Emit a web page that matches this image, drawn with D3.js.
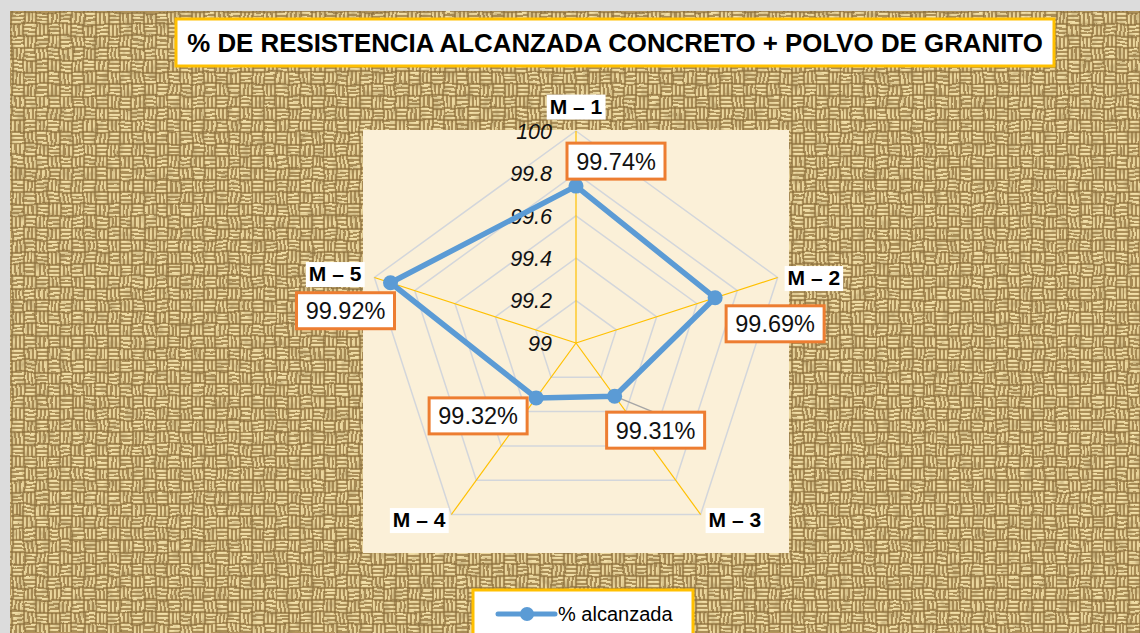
<!DOCTYPE html>
<html>
<head>
<meta charset="utf-8">
<script src="https://cdn.jsdelivr.net/npm/d3@7"></script>
<style>
  html, body { margin: 0; padding: 0; background: #ffffff; }
  svg { display: block; }
</style>
</head>
<body>
<svg id="chart" width="1140" height="633"></svg>
<script>
// ---- data ----
const titleText = "% DE RESISTENCIA ALCANZADA CONCRETO + POLVO DE GRANITO";
const categories = ["M – 1", "M – 2", "M – 3", "M – 4", "M – 5"];
const values = [99.74, 99.69, 99.31, 99.32, 99.92];
const tickValues = [99, 99.2, 99.4, 99.6, 99.8, 100];
const tickLabels = ["99", "99.2", "99.4", "99.6", "99.8", "100"];
const seriesName = "% alcanzada";

// ---- layout ----
const W = 1140, H = 633;
const cx = 576, cy = 343, R = 212;
const plotBox = { x: 363, y: 130, w: 426, h: 423 };
// data-label box offsets (centre of box relative to its marker)
const labelOffsets = [[40, -25], [60, 26], [41, 34], [-58, 18], [-45, 28]];
// category label placement relative to the outer vertex
const catPlace = [
  { dx: 0, dy: -25, anchor: "middle" },
  { dx: 10, dy: 0, anchor: "start" },
  { dx: 8, dy: 5, anchor: "start" },
  { dx: -6, dy: 5, anchor: "end" },
  { dx: -13, dy: -4, anchor: "end" }
];

const colors = {
  series: "#5B9BD5",
  spoke: "#FFC000",
  grid: "#D3D6DB",
  labelBorder: "#ED7D31",
  frame: "#FFC000",
  plotBg: "#FBF0D8"
};

const svg = d3.select("#chart");
const defs = svg.append("defs");

// ---- burlap weave pattern ----
const cell = 12, thread = cell / 3;
const pat = defs.append("pattern")
  .attr("id", "weave").attr("patternUnits", "userSpaceOnUse")
  .attr("width", cell * 2).attr("height", cell * 2);
pat.append("rect").attr("width", cell * 2).attr("height", cell * 2).attr("fill", "#7D6031");
const cellsSpec = [[0, 0, "h"], [1, 0, "v"], [0, 1, "v"], [1, 1, "h"]];
cellsSpec.forEach(([ci, cj, dir]) => {
  for (let k = 0; k < 3; k++) {
    const x0 = ci * cell, y0 = cj * cell;
    if (dir === "h") {
      pat.append("rect").attr("x", x0 + 0.5).attr("y", y0 + k * thread + 0.5)
        .attr("width", cell - 1).attr("height", thread - 1).attr("fill", "#D9BE80");
      pat.append("rect").attr("x", x0 + 1.5).attr("y", y0 + k * thread + 1.2)
        .attr("width", cell - 3).attr("height", 1.4).attr("fill", "#F7E7B2");
    } else {
      pat.append("rect").attr("x", x0 + k * thread + 0.5).attr("y", y0 + 0.5)
        .attr("width", thread - 1).attr("height", cell - 1).attr("fill", "#D2B677");
      pat.append("rect").attr("x", x0 + k * thread + 1.2).attr("y", y0 + 1.5)
        .attr("width", 1.4).attr("height", cell - 3).attr("fill", "#F1DFA8");
    }
  }
});

// warp the weave slightly so it reads as coarse fabric
const warp = defs.append("filter").attr("id", "warp")
  .attr("x", 0).attr("y", 0).attr("width", "100%").attr("height", "100%");
warp.append("feTurbulence").attr("type", "fractalNoise")
  .attr("baseFrequency", "0.05").attr("numOctaves", 2).attr("seed", 3).attr("result", "t");
warp.append("feDisplacementMap").attr("in", "SourceGraphic").attr("in2", "t")
  .attr("scale", 5).attr("xChannelSelector", "R").attr("yChannelSelector", "G");

// irregular shading over the weave
const noise = defs.append("filter").attr("id", "grain")
  .attr("x", 0).attr("y", 0).attr("width", "100%").attr("height", "100%");
noise.append("feTurbulence").attr("type", "fractalNoise")
  .attr("baseFrequency", "0.12 0.10").attr("numOctaves", 2).attr("seed", 11).attr("result", "n");
noise.append("feColorMatrix").attr("in", "n").attr("type", "matrix")
  .attr("values", "0 0 0 0 0.32  0 0 0 0 0.22  0 0 0 0 0.08  2.2 0 0 0 -1.0");

// ---- background ----
svg.append("rect").attr("width", W).attr("height", H).attr("fill", "#DCDCDC");
svg.append("rect").attr("x", 10).attr("y", 11).attr("width", W - 10).attr("height", H - 11)
  .attr("fill", "#B3945A");
svg.append("rect").attr("x", 10).attr("y", 11).attr("width", W - 10).attr("height", H - 11)
  .attr("fill", "url(#weave)").attr("filter", "url(#warp)");
svg.append("rect").attr("x", 10).attr("y", 11).attr("width", W - 10).attr("height", H - 11)
  .attr("fill", "#000").attr("filter", "url(#grain)").attr("opacity", 0.5);

// plot area
svg.append("rect").attr("x", plotBox.x).attr("y", plotBox.y)
  .attr("width", plotBox.w).attr("height", plotBox.h).attr("fill", colors.plotBg);

// ---- title ----
const titleG = svg.append("g");
titleG.append("rect").attr("x", 176).attr("y", 19).attr("width", 878).attr("height", 47)
  .attr("fill", "#fff").attr("stroke", colors.frame).attr("stroke-width", 3);
const titleT = titleG.append("text").attr("x", 615).attr("y", 52).attr("text-anchor", "middle")
  .attr("font-family", "'Liberation Sans', Arial, sans-serif")
  .attr("font-weight", "bold").attr("font-size", 30).attr("fill", "#000")
  .text(titleText);
// size the title so it spans the box like the original heading
{
  const w = titleT.node().getComputedTextLength();
  titleT.attr("font-size", Math.min(30, 30 * 856 / w));
}

// ---- radar ----
const r = d3.scaleLinear().domain([tickValues[0], tickValues[tickValues.length - 1]]).range([0, R]);
const n = categories.length;
const angle = i => i * 2 * Math.PI / n;
const pt = (i, v) => [cx + r(v) * Math.sin(angle(i)), cy - r(v) * Math.cos(angle(i))];

const g = svg.append("g");

// grid pentagons
const ring = d3.lineRadial().angle((d, i) => angle(i)).radius(d => r(d)).curve(d3.curveLinearClosed);
g.append("g").attr("transform", `translate(${cx},${cy})`)
  .selectAll("path").data(tickValues.slice(1)).join("path")
  .attr("d", v => ring(categories.map(() => v)))
  .attr("fill", "none").attr("stroke", colors.grid).attr("stroke-width", 1.5);

// spokes
g.append("g").selectAll("line").data(categories).join("line")
  .attr("x1", cx).attr("y1", cy)
  .attr("x2", (d, i) => pt(i, tickValues[tickValues.length - 1])[0])
  .attr("y2", (d, i) => pt(i, tickValues[tickValues.length - 1])[1])
  .attr("stroke", colors.spoke).attr("stroke-width", 1.2);

// tick labels
g.append("g").selectAll("text").data(tickValues).join("text")
  .attr("x", cx - 24).attr("y", v => cy - r(v))
  .attr("dy", "0.36em").attr("text-anchor", "end")
  .attr("font-family", "'Liberation Sans', Arial, sans-serif")
  .attr("font-style", "italic").attr("font-size", 21.5).attr("fill", "#111")
  .text((v, i) => tickLabels[i]);

// category labels in white boxes
const catG = g.append("g").selectAll("g").data(categories).join("g");
catG.each(function (d, i) {
  const [vx, vy] = pt(i, tickValues[tickValues.length - 1]);
  const p = catPlace[i];
  const sel = d3.select(this);
  const t = sel.append("text")
    .attr("x", vx + p.dx).attr("y", vy + p.dy).attr("dy", "0.36em")
    .attr("text-anchor", p.anchor)
    .attr("font-family", "'Liberation Sans', Arial, sans-serif")
    .attr("font-weight", "bold").attr("font-size", 21).attr("fill", "#000")
    .text(d);
  const bb = t.node().getBBox();
  sel.insert("rect", "text")
    .attr("x", bb.x - 3).attr("y", bb.y).attr("width", bb.width + 6).attr("height", bb.height + 2)
    .attr("fill", "#fff");
});

// series polygon
const seriesLine = d3.lineRadial().angle((d, i) => angle(i)).radius(d => r(d)).curve(d3.curveLinearClosed);
g.append("path").attr("transform", `translate(${cx},${cy})`)
  .attr("d", seriesLine(values))
  .attr("fill", "none").attr("stroke", colors.series).attr("stroke-width", 5.5)
  .attr("stroke-linejoin", "round");

// leader line for the M – 3 label
{
  const [mx, my] = pt(2, values[2]);
  g.append("line").attr("x1", mx).attr("y1", my)
    .attr("x2", mx + labelOffsets[2][0] - 2).attr("y2", my + labelOffsets[2][1] - 18)
    .attr("stroke", "#A6A6A6").attr("stroke-width", 1.5);
}

// markers
g.append("g").selectAll("circle").data(values).join("circle")
  .attr("cx", (v, i) => pt(i, v)[0]).attr("cy", (v, i) => pt(i, v)[1])
  .attr("r", 7.5).attr("fill", colors.series);

// data labels
const lab = g.append("g").selectAll("g").data(values).join("g")
  .attr("transform", (v, i) => {
    const [mx, my] = pt(i, v);
    return `translate(${mx + labelOffsets[i][0]},${my + labelOffsets[i][1]})`;
  });
lab.append("rect").attr("x", -49).attr("y", -18).attr("width", 98).attr("height", 36)
  .attr("fill", "#fff").attr("stroke", colors.labelBorder).attr("stroke-width", 3);
lab.append("text").attr("text-anchor", "middle").attr("dy", "0.36em")
  .attr("font-family", "'Liberation Sans', Arial, sans-serif")
  .attr("font-size", 23.5).attr("fill", "#111")
  .text(v => d3.format(".2f")(v) + "%");

// ---- legend ----
const leg = svg.append("g");
leg.append("rect").attr("x", 473).attr("y", 590).attr("width", 220).attr("height", 60)
  .attr("fill", "#fff").attr("stroke", colors.frame).attr("stroke-width", 3);
leg.append("line").attr("x1", 498).attr("x2", 555).attr("y1", 614).attr("y2", 614)
  .attr("stroke", colors.series).attr("stroke-width", 5).attr("stroke-linecap", "round");
leg.append("circle").attr("cx", 527).attr("cy", 614).attr("r", 7).attr("fill", colors.series);
leg.append("text").attr("x", 558).attr("y", 614).attr("dy", "0.36em")
  .attr("font-family", "'Liberation Sans', Arial, sans-serif")
  .attr("font-size", 20).attr("fill", "#000")
  .text(seriesName);
</script>
</body>
</html>
